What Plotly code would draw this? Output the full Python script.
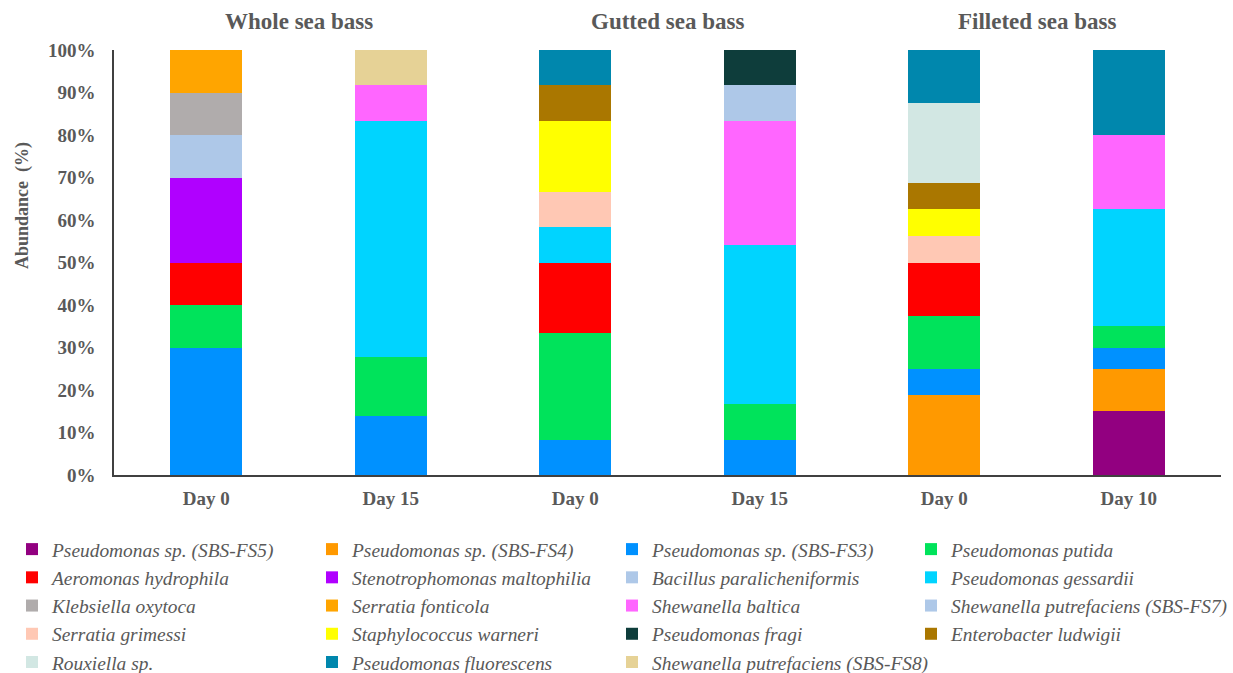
import plotly.graph_objects as go

# Sample labels along the x axis (two sampling days per product type)
days = ["Day 0", "Day 15", "Day 0", "Day 15", "Day 0", "Day 10"]
groups = ["Whole sea bass", "Gutted sea bass", "Filleted sea bass"]

# Relative abundance (%) of each isolate per sample
pseudomonas_fs5 = [0, 0, 0, 0, 0, 15]
pseudomonas_fs4 = [0, 0, 0, 0, 18.75, 10]
pseudomonas_fs3 = [30, 13.9, 8.33, 8.33, 6.25, 5]
pseudomonas_putida = [10, 13.9, 25, 8.33, 12.5, 5]
aeromonas_hydrophila = [10, 0, 16.67, 0, 12.5, 0]
stenotrophomonas_maltophilia = [20, 0, 0, 0, 0, 0]
bacillus_paralicheniformis = [10, 0, 0, 0, 0, 0]
pseudomonas_gessardii = [0, 55.6, 8.33, 37.5, 0, 27.5]
klebsiella_oxytoca = [10, 0, 0, 0, 0, 0]
serratia_fonticola = [10, 0, 0, 0, 0, 0]
shewanella_baltica = [0, 8.3, 0, 29.17, 0, 17.5]
shewanella_fs7 = [0, 0, 0, 8.33, 0, 0]
serratia_grimessi = [0, 0, 8.33, 0, 6.25, 0]
staphylococcus_warneri = [0, 0, 16.67, 0, 6.25, 0]
pseudomonas_fragi = [0, 0, 0, 8.33, 0, 0]
enterobacter_ludwigii = [0, 0, 8.33, 0, 6.25, 0]
rouxiella_sp = [0, 0, 0, 0, 18.75, 0]
pseudomonas_fluorescens = [0, 0, 8.33, 0, 12.5, 20]
shewanella_fs8 = [0, 8.3, 0, 0, 0, 0]

series = [
    ("Pseudomonas sp. (SBS-FS5)", pseudomonas_fs5, "#920080"),
    ("Pseudomonas sp. (SBS-FS4)", pseudomonas_fs4, "#FF9900"),
    ("Pseudomonas sp. (SBS-FS3)", pseudomonas_fs3, "#0091FF"),
    ("Pseudomonas putida", pseudomonas_putida, "#00E35B"),
    ("Aeromonas hydrophila", aeromonas_hydrophila, "#FF0000"),
    ("Stenotrophomonas maltophilia", stenotrophomonas_maltophilia, "#B000FF"),
    ("Bacillus paralicheniformis", bacillus_paralicheniformis, "#AEC8E8"),
    ("Pseudomonas gessardii", pseudomonas_gessardii, "#00D4FF"),
    ("Klebsiella oxytoca", klebsiella_oxytoca, "#B0ACAC"),
    ("Serratia fonticola", serratia_fonticola, "#FFA500"),
    ("Shewanella baltica", shewanella_baltica, "#FF66FF"),
    ("Shewanella putrefaciens (SBS-FS7)", shewanella_fs7, "#AEC8E8"),
    ("Serratia grimessi", serratia_grimessi, "#FFC8B4"),
    ("Staphylococcus warneri", staphylococcus_warneri, "#FFFF00"),
    ("Pseudomonas fragi", pseudomonas_fragi, "#0E3D3B"),
    ("Enterobacter ludwigii", enterobacter_ludwigii, "#AA7700"),
    ("Rouxiella sp.", rouxiella_sp, "#D2E7E3"),
    ("Pseudomonas fluorescens", pseudomonas_fluorescens, "#0087AD"),
    ("Shewanella putrefaciens (SBS-FS8)", shewanella_fs8, "#E6D296"),
]

W, H = 1233, 673
M_L, M_R, M_T, M_B = 114, 12, 50, 198
PW, PH = W - M_L - M_R, H - M_T - M_B
FONT = "Liberation Serif, Times New Roman, serif"
TXT = "#595959"


def paper_x(px):
    return (px - M_L) / PW


def paper_y(py):
    return (H - M_B - py) / PH


x_pos = list(range(len(days)))
legend_names = ["legend", "legend2", "legend3", "legend4"]

fig = go.Figure()
for i, (name, vals, color) in enumerate(series):
    fig.add_trace(go.Bar(
        x=x_pos, y=vals, name=name,
        marker=dict(color=color, line=dict(width=0)),
        legend=legend_names[i % 4],
    ))

# Four legend columns below the plot
col_x = [12, 312, 612, 911]
legend_style = dict(
    orientation="v", xref="paper", yref="paper",
    xanchor="left", yanchor="top", y=paper_y(530),
    font=dict(family=FONT, size=19.4, color=TXT, style="italic"),
    bgcolor="rgba(0,0,0,0)", traceorder="normal", maxheight=300,
)
layout_legends = {}
for k, lg in enumerate(legend_names):
    layout_legends[lg] = dict(legend_style, x=paper_x(col_x[k]))

# Product-type headers above each pair of bars
annotations = []
for g, title in enumerate(groups):
    annotations.append(dict(
        x=2 * g + 0.5, xref="x", y=paper_y(22), yref="paper",
        text=f"<b>{title}</b>", showarrow=False,
        font=dict(family=FONT, size=23, color=TXT),
        xanchor="center", yanchor="middle",
    ))
annotations.append(dict(
    x=paper_x(22), xref="paper", y=paper_y(206), yref="paper",
    text="<b>Abundance  (%)</b>", showarrow=False, textangle=-90,
    font=dict(family=FONT, size=18, color=TXT),
    xanchor="center", yanchor="middle",
))

fig.update_layout(
    width=W, height=H,
    margin=dict(l=M_L, r=M_R, t=M_T, b=M_B, autoexpand=False),
    barmode="stack", bargap=0.61,
    plot_bgcolor="white", paper_bgcolor="white",
    showlegend=True,
    annotations=annotations,
    **layout_legends,
)
fig.update_xaxes(
    tickmode="array", tickvals=x_pos, ticktext=[f"<b>{d}</b>" for d in days],
    range=[-0.5, len(days) - 0.5],
    showline=True, linecolor="#404040", linewidth=1.5,
    ticks="", ticklabelstandoff=5,
    tickfont=dict(family=FONT, size=19, color=TXT),
    showgrid=False, zeroline=False,
)
fig.update_yaxes(
    range=[0, 100], tickmode="array", tickvals=list(range(0, 101, 10)),
    ticktext=[f"<b>{v}%</b>" for v in range(0, 101, 10)],
    showline=True, linecolor="#404040", linewidth=1.5,
    ticks="", ticklabelstandoff=13,
    tickfont=dict(family=FONT, size=19, color=TXT),
    showgrid=False, zeroline=False,
)

fig.write_html("out.html")
